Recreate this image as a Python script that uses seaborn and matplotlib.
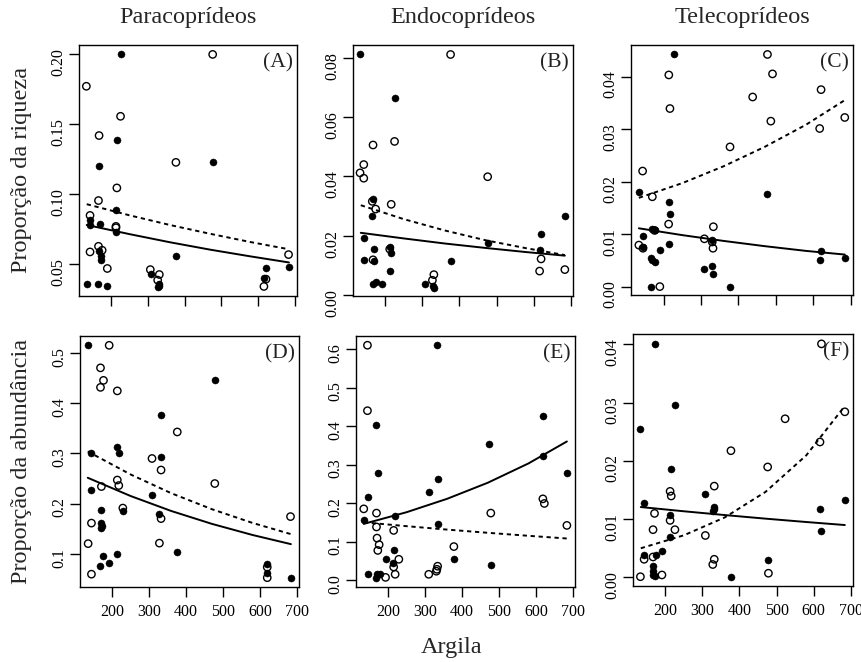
import matplotlib
matplotlib.use("Agg")
import seaborn as sns
import matplotlib.pyplot as plt

# ---- values ----
# filled circles (cheio) and open circles (vazio), x = argila

a_cheio_x = [226, 216, 168, 476.6, 213.5, 143, 143, 170, 213.5, 376.6, 168, 172, 172,
             134, 166, 190, 308, 330, 331, 329, 620.7, 616, 683]
a_cheio_y = [0.1995, 0.1386, 0.1197, 0.1230, 0.0890, 0.0812, 0.0777, 0.0787, 0.0730, 0.0562,
             0.0593, 0.0560, 0.0530, 0.0361, 0.0359, 0.0345, 0.0432, 0.0363, 0.0347, 0.0340,
             0.0472, 0.0403, 0.0479]
a_vazio_x = [133, 476.6, 226, 167.6, 376.6, 216, 166, 143, 213.5, 213.5, 166, 176, 143,
             190, 307, 331.5, 327, 621.6, 616, 683]
a_vazio_y = [0.1768, 0.1995, 0.1554, 0.1417, 0.1226, 0.1044, 0.0954, 0.0848, 0.0770, 0.0760,
             0.0628, 0.0600, 0.0588, 0.0470, 0.0462, 0.0427, 0.0387, 0.0394, 0.0342, 0.0569]

b_cheio_x = [132, 226, 166, 165, 142, 169, 142, 213, 215, 213, 169, 167, 175, 190, 307,
             328, 332, 376, 476, 620, 617, 684]
b_cheio_y = [0.0811, 0.0663, 0.0324, 0.0268, 0.0191, 0.0157, 0.0117, 0.0162, 0.0142, 0.0082,
             0.0116, 0.0037, 0.0045, 0.0038, 0.0036, 0.0030, 0.0024, 0.0114, 0.0177, 0.0206,
             0.0152, 0.0268]
b_vazio_x = [376, 167, 225, 142, 132, 142, 476, 165, 174, 216, 212, 167, 331, 327, 620, 616, 684]
b_vazio_y = [0.0811, 0.0506, 0.0518, 0.0440, 0.0412, 0.0394, 0.0399, 0.0316, 0.0290, 0.0306,
             0.0155, 0.0119, 0.0069, 0.0050, 0.0122, 0.0081, 0.0086]

c_cheio_x = [228, 134, 477.5, 214, 217, 213.5, 170, 176.6, 144, 144, 166, 169, 176, 191,
             167.6, 309, 330, 332, 330, 377.5, 620.7, 617, 684]
c_cheio_y = [0.0442, 0.0181, 0.0176, 0.0162, 0.0138, 0.0081, 0.0109, 0.0107, 0.0097, 0.0076,
             0.0054, 0.0051, 0.0046, 0.0069, 0.0, 0.0033, 0.0039, 0.0024, 0.0088, 0.0,
             0.0068, 0.0051, 0.0054]
c_vazio_x = [477.5, 214, 491, 217, 438, 486.5, 620.7, 617, 684, 377.5, 144, 170, 213.5,
             176, 134, 145, 190, 309, 333, 332, 330]
c_vazio_y = [0.0442, 0.0403, 0.0405, 0.0339, 0.0361, 0.0315, 0.0375, 0.0301, 0.0322, 0.0266,
             0.0220, 0.0171, 0.0119, 0.0107, 0.0079, 0.0073, 0.0, 0.0091, 0.0114, 0.0073, 0.0085]

d_cheio_x = [135, 478, 332.5, 214, 218, 144, 332.5, 308, 144, 169, 229, 328, 170, 170, 172,
             176.6, 214, 192, 167, 376.4, 619, 620, 684]
d_cheio_y = [0.516, 0.447, 0.376, 0.312, 0.301, 0.301, 0.293, 0.218, 0.228, 0.188, 0.186,
             0.180, 0.161, 0.152, 0.155, 0.095, 0.099, 0.081, 0.076, 0.103, 0.080, 0.062, 0.052]
d_vazio_x = [192, 168.5, 176.6, 168.5, 214, 376.4, 308, 332.5, 214, 218, 171, 478, 229,
             332.5, 144, 135, 328, 144, 683, 620, 620]
d_vazio_y = [0.516, 0.471, 0.446, 0.432, 0.425, 0.343, 0.290, 0.267, 0.247, 0.236, 0.234,
             0.240, 0.191, 0.170, 0.161, 0.120, 0.121, 0.059, 0.174, 0.073, 0.052]

e_cheio_x = [331, 168.5, 619, 472, 173, 334, 310, 146, 619, 684, 134, 219, 334, 215, 193,
             213.5, 378, 478, 146, 168.5, 170, 177]
e_cheio_y = [0.610, 0.402, 0.426, 0.354, 0.278, 0.262, 0.228, 0.215, 0.322, 0.277, 0.155,
             0.166, 0.146, 0.078, 0.056, 0.045, 0.054, 0.039, 0.016, 0.006, 0.017, 0.017]
e_vazio_x = [144, 144, 134, 168.5, 478, 619, 623, 684, 168.5, 215, 170, 175.7, 172, 378,
             229, 215, 219, 193, 310, 334, 332, 330.6]
e_vazio_y = [0.610, 0.440, 0.185, 0.174, 0.174, 0.211, 0.199, 0.142, 0.138, 0.129, 0.109,
             0.092, 0.077, 0.087, 0.054, 0.034, 0.015, 0.007, 0.015, 0.036, 0.028, 0.023]

f_cheio_x = [171, 226, 133, 216, 308, 143, 332, 330, 329, 213, 213, 191, 175, 143, 167.5,
             167.5, 167.5, 171, 377, 478, 617, 621, 684]
f_cheio_y = [0.0401, 0.0295, 0.0255, 0.0185, 0.0143, 0.0127, 0.0120, 0.0116, 0.0113, 0.0106,
             0.0068, 0.0045, 0.0037, 0.0038, 0.0018, 0.0009, 0.0003, 0.0001, 0.0, 0.0029,
             0.0116, 0.0079, 0.0132]
f_vazio_x = [621, 523, 377, 476, 617, 684, 332, 213, 216, 171, 213, 167, 226, 308, 332, 328,
             167, 143, 133, 191, 478]
f_vazio_y = [0.0401, 0.0272, 0.0217, 0.0189, 0.0232, 0.0284, 0.0156, 0.0147, 0.0139, 0.0109,
             0.0097, 0.0081, 0.0081, 0.0071, 0.0030, 0.0021, 0.0034, 0.0030, 0.0, 0.0003, 0.0006]

# fitted curves, read at a few argila values
fit_x = [134, 250, 360, 470, 580, 684]
a_fit_cheio = [0.0780, 0.0715, 0.0657, 0.0604, 0.0556, 0.0513]
a_fit_vazio = [0.0928, 0.0849, 0.0780, 0.0717, 0.0658, 0.0607]
b_fit_cheio = [0.0210, 0.0191, 0.0174, 0.0159, 0.0145, 0.0133]
b_fit_vazio = [0.0303, 0.0256, 0.0218, 0.0185, 0.0158, 0.0135]
c_fit_cheio = [0.0111, 0.0098, 0.0087, 0.0077, 0.0068, 0.0061]
c_fit_vazio = [0.0169, 0.0197, 0.0229, 0.0266, 0.0308, 0.0355]
d_fit_cheio = [0.2515, 0.2151, 0.1852, 0.1595, 0.1373, 0.1190]
d_fit_vazio = [0.3040, 0.2581, 0.2207, 0.1888, 0.1614, 0.1390]
e_fit_cheio = [0.146, 0.1763, 0.2112, 0.2529, 0.3030, 0.360]
e_fit_vazio = [0.150, 0.140, 0.1311, 0.1228, 0.115, 0.108]
f_fit_cheio = [0.0120, 0.01127, 0.01062, 0.0100, 0.00942, 0.0089]
f_fit_vazio = [0.0049, 0.00713, 0.0102, 0.0146, 0.0209, 0.0294]

titulos = ["Paracoprídeos", "Endocoprídeos", "Telecoprídeos"]
x_ticks = [200, 300, 400, 500, 600, 700]

sns.set_theme(style="ticks")
plt.rcParams["font.family"] = ["Liberation Serif", "DejaVu Serif"]

W, H = 862, 662
fig = plt.figure(figsize=(W / 100, H / 100), dpi=100)

# (label, data..., ylim, yticks, decimals, left, top, width, height) in pixels
panels = [
    ("A", a_cheio_x, a_cheio_y, a_vazio_x, a_vazio_y, a_fit_cheio, a_fit_vazio,
     (0.0274, 0.2062), [0.05, 0.10, 0.15, 0.20], 2, 79, 45, 218, 251),
    ("B", b_cheio_x, b_cheio_y, b_vazio_x, b_vazio_y, b_fit_cheio, b_fit_vazio,
     (-0.0003, 0.0843), [0.00, 0.02, 0.04, 0.06, 0.08], 2, 353, 45, 220, 251),
    ("C", c_cheio_x, c_cheio_y, c_vazio_x, c_vazio_y, c_fit_cheio, c_fit_vazio,
     (-0.0016, 0.0460), [0.00, 0.01, 0.02, 0.03, 0.04], 2, 631, 45, 222, 250),
    ("D", d_cheio_x, d_cheio_y, d_vazio_x, d_vazio_y, d_fit_cheio, d_fit_vazio,
     (0.0334, 0.5346), [0.1, 0.2, 0.3, 0.4, 0.5], 1, 80, 336, 219, 251),
    ("E", e_cheio_x, e_cheio_y, e_vazio_x, e_vazio_y, e_fit_cheio, e_fit_vazio,
     (-0.018, 0.634), [0.0, 0.1, 0.2, 0.3, 0.4, 0.5, 0.6], 1, 356, 336, 219, 251),
    ("F", f_cheio_x, f_cheio_y, f_vazio_x, f_vazio_y, f_fit_cheio, f_fit_vazio,
     (-0.0016, 0.0418), [0.00, 0.01, 0.02, 0.03, 0.04], 2, 633, 334, 220, 252),
]

for i, (lab, cx, cy, vx, vy, fc, fv, ylim, yt, dec, l, t, w, h) in enumerate(panels):
    ax = fig.add_axes([l / W, (H - t - h) / H, w / W, h / H])
    sns.scatterplot(x=cx, y=cy, ax=ax, color="black", edgecolor="black",
                    s=26, linewidth=0.3, zorder=3)
    sns.scatterplot(x=vx, y=vy, ax=ax, color="black", facecolors="none",
                    edgecolor="black", s=28, linewidth=1.0, zorder=3)
    sns.lineplot(x=fit_x, y=fc, ax=ax, color="black", lw=1.4,
                 errorbar=None, zorder=4)
    sns.lineplot(x=fit_x, y=fv, ax=ax, color="black", lw=1.4,
                 linestyle=(0, (2.2, 1.9)), errorbar=None, zorder=4)

    ax.set_xlim(113, 706)
    ax.set_ylim(*ylim)
    ax.set_xticks(x_ticks)
    ax.set_yticks(yt)
    ax.set_yticklabels([f"{v:.{dec}f}" for v in yt])
    if i < 3:
        ax.set_xticklabels([])
    else:
        ax.set_xticklabels([str(v) for v in x_ticks])
    ax.set_xlabel("")
    ax.set_ylabel("")
    ax.tick_params(axis="both", direction="out", length=7, width=1,
                   colors="black", labelsize=11.5)
    ax.tick_params(axis="y", labelrotation=90, pad=2)
    ax.tick_params(axis="x", pad=5)
    for sp in ax.spines.values():
        sp.set_visible(True)
        sp.set_color("black")
        sp.set_linewidth(1.0)
    ax.text(0.982, 0.93, f"({lab})", transform=ax.transAxes, ha="right",
            va="center", fontsize=15.5, color="#222222")
    if i < 3:
        fig.text((l + w / 2) / W, 1 - 18 / H, titulos[i], ha="center",
                 va="center", fontsize=17.5)

fig.text(22 / W, 1 - 170 / H, "Proporção da riqueza", rotation=90,
         ha="center", va="center", fontsize=17.5)
fig.text(22 / W, 1 - 461 / H, "Proporção da abundância", rotation=90,
         ha="center", va="center", fontsize=17.5)
fig.text(452 / W, 1 - 648 / H, "Argila", ha="center", va="center", fontsize=17.5)

fig.savefig("out.png", dpi=100, facecolor="white")
